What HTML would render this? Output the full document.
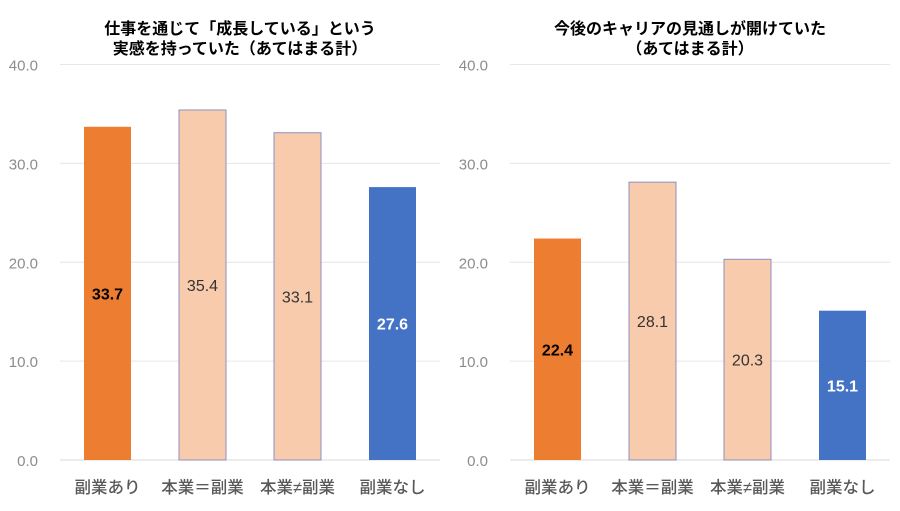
<!DOCTYPE html>
<html><head><meta charset="utf-8"><style>
body{margin:0;background:#fff;width:900px;height:506px;overflow:hidden}
svg{font-family:"Liberation Sans","Noto Sans CJK JP",sans-serif}
</style></head><body>
<svg id="c" width="900" height="506"></svg>
<script>
const categories=["副業あり","本業＝副業","本業≠副業","副業なし"];
const valuesLeft=[33.7,35.4,33.1,27.6];
const valuesRight=[22.4,28.1,20.3,15.1];
const ticks=[0,10,20,30,40];
const titleLeft=["仕事を通じて「成長している」という","実感を持っていた（あてはまる計）"];
const titleRight=["今後のキャリアの見通しが開けていた","（あてはまる計）"];
const fills=["#ED7D31","#F8CBAD","#F8CBAD","#4472C4"];
const strokes=["none","#8F8FC0","#8F8FC0","none"];
const labelColors=["#000","#333","#333","#fff"];
const bolds=[true,false,false,true];
const svg=document.getElementById('c');
const NS="http://www.w3.org/2000/svg";
function mk(t,a,txt){const e=document.createElementNS(NS,t);for(const k in a)e.setAttribute(k,a[k]);if(txt!==undefined)e.textContent=txt;svg.appendChild(e);return e;}
function drawChart(x0,vals,title,name){
  const y0=460,top=64.5,max=40,w=380;
  const y=v=>y0-(v/max)*(y0-top);
  ticks.forEach(t=>{
    const l=mk('line',{x1:x0,x2:x0+w,y1:y(t),y2:y(t),stroke:t===0?'#d9d9d9':'#e6e6e6','stroke-width':1});
    
    
    const tx=mk('text',{x:x0-22,y:y(t)+6,'text-anchor':'end','font-size':15,fill:'#8c8c8c'},t.toFixed(1));
    
    
  });
  const band=w/vals.length,bw=47;
  vals.forEach((v,i)=>{
    const cx=x0+band*i+band/2;
    const r=mk('rect',{x:cx-bw/2,y:y(v),width:bw,height:y0-y(v),fill:fills[i],stroke:strokes[i],'stroke-width':1});
    
    
    const lb=mk('text',{x:cx,y:(y(v)+y0)/2+6,'text-anchor':'middle','font-size':16,fill:labelColors[i],'font-weight':bolds[i]?'bold':'normal'},v.toFixed(1));
    
    
    const cl=mk('text',{x:cx,y:493,'text-anchor':'middle','font-size':16.5,fill:'#595959','font-weight':'500'},categories[i]);
    
    
  });
  title.forEach((t,k)=>{
    const tt=mk('text',{x:x0+w/2-10,y:34+k*20,'text-anchor':'middle','font-size':16,'font-weight':'bold',fill:'#000'},t);
    
    
  });
}
drawChart(60,valuesLeft,titleLeft,'left-chart');
drawChart(510,valuesRight,titleRight,'right-chart');
</script>
</body></html>
